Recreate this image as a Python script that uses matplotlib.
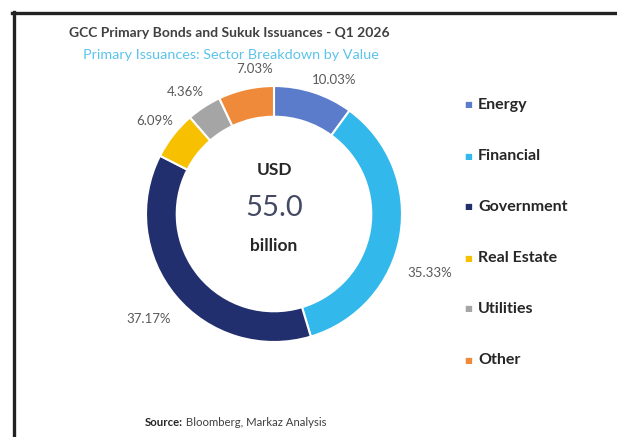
import matplotlib
matplotlib.use("Agg")
import matplotlib.pyplot as plt
from matplotlib.lines import Line2D
import numpy as np

plt.rcParams['font.family'] = ['Lato', 'DejaVu Sans']

sectors = ["Energy", "Financial", "Government", "Real Estate", "Utilities", "Other"]
shares = [10.03, 35.33, 37.17, 6.09, 4.36, 7.03]
colors = ["#5a7ccb", "#33b8ec", "#222f6e", "#f7c000", "#a5a5a5", "#ef8a3a"]
title = "GCC Primary Bonds and Sukuk Issuances - Q1 2026"
subtitle = "Primary Issuances: Sector Breakdown by Value"
center_lines = ["USD", "55.0", "billion"]
source_bold = "Source:"
source_text = " Bloomberg, Markaz Analysis"

W, H = 617, 437
fig = plt.figure(figsize=(W / 100, H / 100), dpi=100)
fig.patch.set_facecolor("white")

def fx(px):
    return px / W

def fy(py):
    return 1 - py / H

# frame lines (top and left)
fig.add_artist(Line2D([fx(12), fx(617)], [fy(12.5), fy(12.5)], color="#222222", lw=2.4, transform=fig.transFigure))
fig.add_artist(Line2D([fx(13.5), fx(13.5)], [fy(12), fy(437)], color="#222222", lw=2.4, transform=fig.transFigure))

# donut
cx, cy, R = 274, 214, 114
half = 160
ax = fig.add_axes([fx(cx - half), fy(cy + half), (2 * half) / W, (2 * half) / H])
lim = half / R
ax.set_xlim(-lim, lim)
ax.set_ylim(-lim, lim)
ax.set_aspect("equal")
ax.axis("off")

wedges, _ = ax.pie(shares, colors=colors, startangle=90, counterclock=False,
                   radius=1.0, wedgeprops=dict(width=0.24, edgecolor="white", linewidth=1.5))

# label placement (style): radial distance and angle nudge per label
label_dist = [1.15, 1.30, 1.28, 1.18, 1.18, 1.14]
label_nudge = [-6, -11, 0, 0, 3, -5]
for w, val, d, nd in zip(wedges, shares, label_dist, label_nudge):
    ang = np.deg2rad((w.theta1 + w.theta2) / 2 + nd)
    ax.text(d * np.cos(ang), d * np.sin(ang), f"{val:.2f}%", ha="center", va="center",
            fontsize=9.5, color="#595959")

ax.text(0, 0.34, center_lines[0], ha="center", va="center", fontsize=12.5, fontweight="bold", color="#262626")
ax.text(0, 0.05, center_lines[1], ha="center", va="center", fontsize=21, color="#454a63")
ax.text(0, -0.25, center_lines[2], ha="center", va="center", fontsize=12.5, fontweight="bold", color="#262626")

# titles
fig.text(fx(229), fy(33), title, ha="center", va="center", fontsize=10, fontweight="bold", color="#404040")
fig.text(fx(231), fy(55), subtitle, ha="center", va="center", fontsize=10.4, color="#5cc3ec")

# legend
for i, (name, col) in enumerate(zip(sectors, colors)):
    yy = 105 + 51 * i
    fig.text(fx(468), fy(yy), "\u25A0", ha="center", va="center", fontsize=6, color=col)
    fig.text(fx(478), fy(yy), name, ha="left", va="center", fontsize=11.5, fontweight="bold", color="#262626")

# source
t1 = fig.text(fx(145), fy(423), source_bold, ha="left", va="center", fontsize=8.2, fontweight="bold", color="#262626")
fig.canvas.draw()
bb = t1.get_window_extent()
fig.text(bb.x1 / W, fy(423), source_text, ha="left", va="center", fontsize=8.2, color="#404040")

fig.savefig("out.png", dpi=100, facecolor="white")
